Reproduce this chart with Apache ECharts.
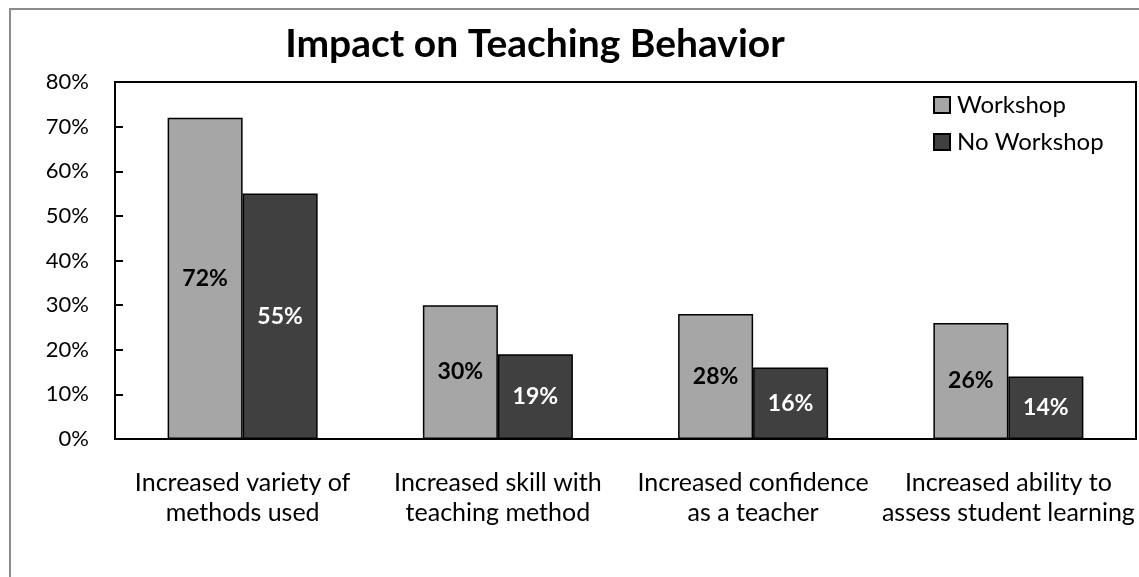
<!DOCTYPE html>
<html>
<head>
<meta charset="utf-8">
<style>
  html, body { margin: 0; padding: 0; background: #fff; }
  #chart { width: 1139px; height: 577px; }
</style>
<script src="https://cdn.jsdelivr.net/npm/echarts@6/dist/echarts.min.js"></script>
</head>
<body>
<div id="chart"></div>
<script>
// 数据
var categories = [
	'Increased variety of\nmethods used',
	'Increased skill with\nteaching method',
	'Increased confidence\nas a teacher',
	'Increased ability to\nassess student learning'
];
var workshop = [72, 30, 28, 26];
var noWorkshop = [55, 19, 16, 14];
var yTicks = [0, 10, 20, 30, 40, 50, 60, 70, 80];

var font = 'Lato, "Open Sans", sans-serif';

var myChart = echarts.init(document.getElementById('chart'));
myChart.setOption({
	animation: false,
	textStyle: { fontFamily: font },
	title: {
		text: 'Impact on Teaching Behavior',
		left: 530,
		top: 20,
		textAlign: 'center',
		textStyle: { fontSize: 39, fontWeight: 'bold', color: '#000', fontFamily: font }
	},
	graphic: [{
		type: 'rect',
		shape: { x: 10, y: 9, width: 1140, height: 580 },
		style: { fill: 'none', stroke: '#8c8c8c', lineWidth: 2 },
		silent: true
	}],
	legend: {
		orient: 'vertical',
		left: 928,
		top: 88,
		itemWidth: 16,
		itemHeight: 16,
		itemGap: 13,
		icon: 'rect',
		textStyle: { fontSize: 24, color: '#000', fontFamily: font, padding: [0, 0, 0, 2] },
		data: ['Workshop', 'No Workshop']
	},
	grid: {
		left: 115,
		right: 3,
		top: 82,
		bottom: 138,
		show: true,
		borderColor: '#000',
		borderWidth: 2
	},
	xAxis: {
		type: 'category',
		data: categories,
		axisLine: { lineStyle: { color: '#000', width: 2 } },
		axisTick: { show: false },
		axisLabel: {
			fontSize: 25,
			color: '#000',
			margin: 29,
			lineHeight: 30,
			interval: 0,
			fontFamily: font
		}
	},
	yAxis: {
		type: 'value',
		min: 0,
		max: 80,
		interval: 10,
		splitLine: { show: false },
		axisLine: { show: true, lineStyle: { color: '#000', width: 2 } },
		axisTick: { show: true, inside: true, length: 8, lineStyle: { color: '#000', width: 2 } },
		axisLabel: {
			fontSize: 22,
			color: '#000',
			margin: 26,
			fontFamily: font,
			formatter: function (v) { return yTicks.indexOf(v) >= 0 ? v + '%' : ''; }
		}
	},
	series: [
		{
			name: 'Workshop',
			type: 'bar',
			data: workshop,
			barWidth: 75,
			barGap: '0%',
			itemStyle: { color: '#a6a6a6', borderColor: '#000', borderWidth: 1.5 },
			label: {
				show: true,
				position: 'inside',
				formatter: '{c}%',
				fontSize: 23,
				fontWeight: 'bold',
				color: '#000',
				fontFamily: font
			}
		},
		{
			name: 'No Workshop',
			type: 'bar',
			data: noWorkshop,
			barWidth: 75,
			barGap: '0%',
			itemStyle: { color: '#404040', borderColor: '#000', borderWidth: 1.5 },
			label: {
				show: true,
				position: 'inside',
				formatter: '{c}%',
				fontSize: 23,
				fontWeight: 'bold',
				color: '#fff',
				fontFamily: font
			}
		}
	]
});
</script>
</body>
</html>
